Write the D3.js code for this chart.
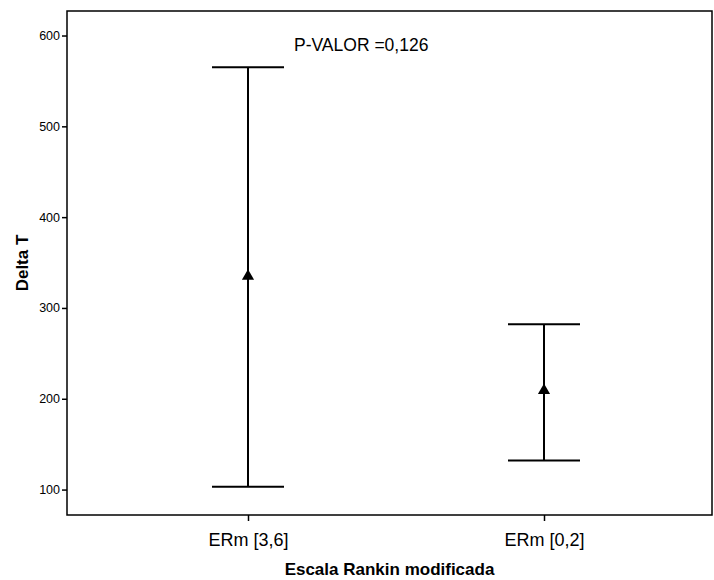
<!DOCTYPE html>
<html>
<head>
<meta charset="utf-8">
<script src="https://cdn.jsdelivr.net/npm/d3@7"></script>
<style>
body { margin: 0; background: #fff; }
text { font-family: "Liberation Sans", Arial, sans-serif; fill: #000; }
</style>
</head>
<body>
<div id="chart"></div>
<script>
// groups and their error bar values
const groups = ["ERm [3,6]", "ERm [0,2]"];
const means = [335, 209];
const upper = [565, 282];
const lower = [103, 132];
const yTicks = [100, 200, 300, 400, 500, 600];

var W = 714, H = 580;
var plotLeft = 67, plotRight = 712, plotTop = 11, plotBottom = 515;

var svg = d3.select("#chart").append("svg")
    .attr("width", W)
    .attr("height", H);

//scales
var x = d3.scalePoint()
    .domain(groups)
    .range([100, 692])
    .padding(0.5);

var y = d3.scaleLinear()
    .domain([72, 627])
    .range([plotBottom, plotTop]);

//frame
svg.append("rect")
    .attr("x", plotLeft)
    .attr("y", plotTop)
    .attr("width", plotRight - plotLeft)
    .attr("height", plotBottom - plotTop)
    .attr("fill", "none")
    .attr("stroke", "#000")
    .attr("stroke-width", 1.5);

//y axis
var yAxis = svg.append("g")
    .attr("transform", "translate(" + plotLeft + ",0)")
    .call(d3.axisLeft(y).tickValues(yTicks).tickSize(5).tickPadding(2));
yAxis.select(".domain").remove();
yAxis.selectAll("line").attr("stroke-width", 1.5);
yAxis.selectAll("text").style("font-size", "12.5px").style("font-family", "Liberation Sans, Arial, sans-serif");

//x axis
var xAxis = svg.append("g")
    .attr("transform", "translate(0," + plotBottom + ")")
    .call(d3.axisBottom(x).tickSize(6).tickPadding(12));
xAxis.select(".domain").remove();
xAxis.selectAll("line").attr("stroke-width", 1.5);
xAxis.selectAll("text").style("font-size", "18px").style("font-family", "Liberation Sans, Arial, sans-serif");

//axis titles
svg.append("text")
    .attr("x", (plotLeft + plotRight) / 2)
    .attr("y", 575)
    .attr("text-anchor", "middle")
    .style("font-size", "17px")
    .style("font-weight", "bold")
    .text("Escala Rankin modificada");

svg.append("text")
    .attr("transform", "translate(28," + ((plotTop + plotBottom) / 2) + ") rotate(-90)")
    .attr("text-anchor", "middle")
    .style("font-size", "17px")
    .style("font-weight", "bold")
    .text("Delta T");

//error bars
var capW = 72;
var bars = svg.append("g").selectAll("g")
    .data(groups)
    .enter()
    .append("g");

bars.append("line")
    .attr("x1", function(d) { return x(d); })
    .attr("x2", function(d) { return x(d); })
    .attr("y1", function(d, i) { return y(upper[i]); })
    .attr("y2", function(d, i) { return y(lower[i]); })
    .attr("stroke", "#000").attr("stroke-width", 2);

bars.append("line")
    .attr("x1", function(d) { return x(d) - capW / 2; })
    .attr("x2", function(d) { return x(d) + capW / 2; })
    .attr("y1", function(d, i) { return y(upper[i]); })
    .attr("y2", function(d, i) { return y(upper[i]); })
    .attr("stroke", "#000").attr("stroke-width", 2);

bars.append("line")
    .attr("x1", function(d) { return x(d) - capW / 2; })
    .attr("x2", function(d) { return x(d) + capW / 2; })
    .attr("y1", function(d, i) { return y(lower[i]); })
    .attr("y2", function(d, i) { return y(lower[i]); })
    .attr("stroke", "#000").attr("stroke-width", 2);

//mean markers
bars.append("path")
    .attr("d", d3.symbol().type(d3.symbolTriangle).size(64))
    .attr("transform", function(d, i) { return "translate(" + x(d) + "," + y(means[i]) + ")"; })
    .attr("fill", "#000");

//annotation
svg.append("text")
    .attr("x", 294)
    .attr("y", 51)
    .style("font-size", "17.5px")
    .text("P-VALOR =0,126");
</script>
</body>
</html>
